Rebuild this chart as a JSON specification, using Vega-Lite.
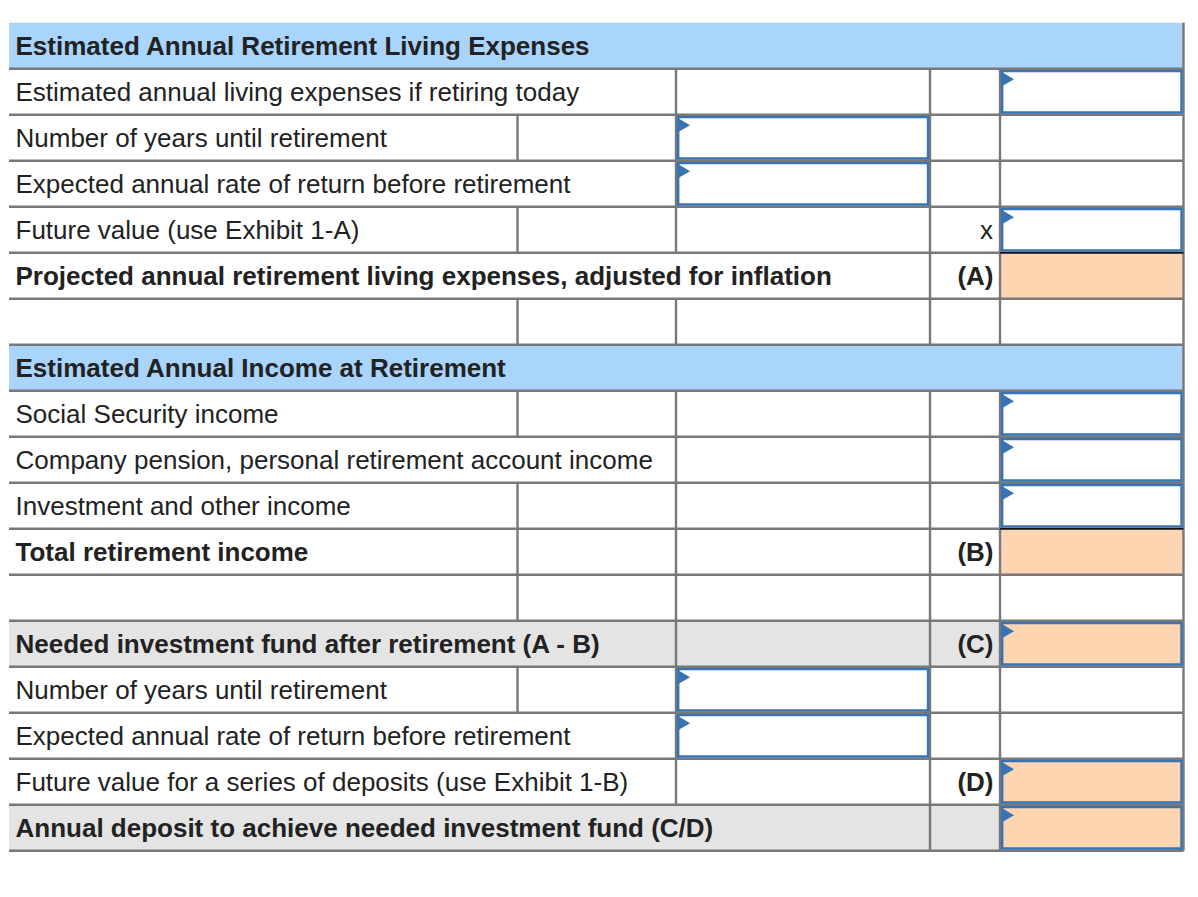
{
  "$schema": "https://vega.github.io/schema/vega-lite/v6.json",
  "width": 1198,
  "height": 897,
  "padding": 0,
  "autosize": {"type": "none"},
  "background": "white",
  "config": {
    "view": {"stroke": null},
    "text": {"font": "Liberation Sans", "fontSize": 26, "fill": "#222222"}
  },
  "datasets": {
    "rows": [
      {"r": 0, "r2": 1, "label": "Estimated Annual Retirement Living Expenses", "role": "section", "tag": "", "v": [5]},
      {"r": 1, "r2": 2, "label": "Estimated annual living expenses if retiring today", "role": "item", "tag": "", "v": [2, 3, 4, 5]},
      {"r": 2, "r2": 3, "label": "Number of years until retirement", "role": "item", "tag": "", "v": [1, 2, 3, 4, 5]},
      {"r": 3, "r2": 4, "label": "Expected annual rate of return before retirement", "role": "item", "tag": "", "v": [2, 3, 4, 5]},
      {"r": 4, "r2": 5, "label": "Future value (use Exhibit 1-A)", "role": "item", "tag": "x", "v": [1, 2, 3, 4, 5]},
      {"r": 5, "r2": 6, "label": "Projected annual retirement living expenses, adjusted for inflation", "role": "total", "tag": "(A)", "v": [3, 4, 5]},
      {"r": 6, "r2": 7, "label": "", "role": "blank", "tag": "", "v": [1, 2, 3, 4, 5]},
      {"r": 7, "r2": 8, "label": "Estimated Annual Income at Retirement", "role": "section", "tag": "", "v": [5]},
      {"r": 8, "r2": 9, "label": "Social Security income", "role": "item", "tag": "", "v": [1, 2, 3, 4, 5]},
      {"r": 9, "r2": 10, "label": "Company pension, personal retirement account income", "role": "item", "tag": "", "v": [2, 3, 4, 5]},
      {"r": 10, "r2": 11, "label": "Investment and other income", "role": "item", "tag": "", "v": [1, 2, 3, 4, 5]},
      {"r": 11, "r2": 12, "label": "Total retirement income", "role": "total", "tag": "(B)", "v": [1, 2, 3, 4, 5]},
      {"r": 12, "r2": 13, "label": "", "role": "blank", "tag": "", "v": [1, 2, 3, 4, 5]},
      {"r": 13, "r2": 14, "label": "Needed investment fund after retirement (A - B)", "role": "total", "tag": "(C)", "v": [2, 3, 4, 5]},
      {"r": 14, "r2": 15, "label": "Number of years until retirement", "role": "item", "tag": "", "v": [1, 2, 3, 4, 5]},
      {"r": 15, "r2": 16, "label": "Expected annual rate of return before retirement", "role": "item", "tag": "", "v": [2, 3, 4, 5]},
      {"r": 16, "r2": 17, "label": "Future value for a series of deposits (use Exhibit 1-B)", "role": "item", "tag": "(D)", "v": [2, 3, 4, 5]},
      {"r": 17, "r2": 18, "label": "Annual deposit to achieve needed investment fund (C/D)", "role": "total", "tag": "", "v": [3, 4, 5]}
    ],
    "cells": [
      {"r": 0, "r2": 1, "c": 0, "c2": 5, "kind": "section"},
      {"r": 7, "r2": 8, "c": 0, "c2": 5, "kind": "section"},
      {"r": 13, "r2": 14, "c": 0, "c2": 4, "kind": "shaded"},
      {"r": 17, "r2": 18, "c": 0, "c2": 4, "kind": "shaded"},
      {"r": 1, "r2": 2, "c": 4, "c2": 5, "kind": "entry"},
      {"r": 2, "r2": 3, "c": 2, "c2": 3, "kind": "entry"},
      {"r": 3, "r2": 4, "c": 2, "c2": 3, "kind": "entry"},
      {"r": 4, "r2": 5, "c": 4, "c2": 5, "kind": "entry"},
      {"r": 5, "r2": 6, "c": 4, "c2": 5, "kind": "result"},
      {"r": 8, "r2": 9, "c": 4, "c2": 5, "kind": "entry"},
      {"r": 9, "r2": 10, "c": 4, "c2": 5, "kind": "entry"},
      {"r": 10, "r2": 11, "c": 4, "c2": 5, "kind": "entry"},
      {"r": 11, "r2": 12, "c": 4, "c2": 5, "kind": "result"},
      {"r": 13, "r2": 14, "c": 4, "c2": 5, "kind": "result entry"},
      {"r": 14, "r2": 15, "c": 2, "c2": 3, "kind": "entry"},
      {"r": 15, "r2": 16, "c": 2, "c2": 3, "kind": "entry"},
      {"r": 16, "r2": 17, "c": 4, "c2": 5, "kind": "result entry"},
      {"r": 17, "r2": 18, "c": 4, "c2": 5, "kind": "result entry"}
    ]
  },
  "layer": [
    {
      "data": {"name": "cells"},
      "mark": {"type": "rect", "strokeWidth": 0},
      "encoding": {
        "x": {"field": "c", "type": "quantitative", "axis": null, "scale": {"domain": [0, 1, 2, 3, 4, 5], "range": [9, 517.5, 676, 930, 1000, 1183.5], "nice": false, "zero": false}},
        "x2": {"field": "c2"},
        "y": {"field": "r", "type": "quantitative", "axis": null, "scale": {"domain": [0, 18], "range": [22.7, 850.7], "nice": false, "zero": false}},
        "y2": {"field": "r2"},
        "fill": {"field": "kind", "type": "nominal", "legend": null, "scale": {"domain": ["section", "shaded", "result", "result entry", "entry"], "range": ["#a9d4fb", "#e4e4e4", "#fdd5b0", "#fdd5b0", "#ffffff"]}}
      }
    },
    {
      "data": {"name": "rows"},
      "mark": {"type": "rule", "color": "#787878", "strokeWidth": 2.4},
      "encoding": {
        "x": {"datum": 0, "type": "quantitative", "axis": null, "scale": {"domain": [0, 1, 2, 3, 4, 5], "range": [9, 517.5, 676, 930, 1000, 1183.5], "nice": false, "zero": false}},
        "x2": {"datum": 5},
        "y": {"field": "r2", "type": "quantitative", "axis": null, "scale": {"domain": [0, 18], "range": [22.7, 850.7], "nice": false, "zero": false}}
      }
    },
    {
      "data": {"name": "rows"},
      "transform": [{"flatten": ["v"]}],
      "mark": {"type": "rule", "color": "#787878", "strokeWidth": 2.4},
      "encoding": {
        "x": {"field": "v", "type": "quantitative", "axis": null, "scale": {"domain": [0, 1, 2, 3, 4, 5], "range": [9, 517.5, 676, 930, 1000, 1183.5], "nice": false, "zero": false}},
        "y": {"field": "r", "type": "quantitative", "axis": null, "scale": {"domain": [0, 18], "range": [22.7, 850.7], "nice": false, "zero": false}},
        "y2": {"field": "r2"}
      }
    },
    {
      "data": {"name": "cells"},
      "transform": [{"filter": "datum.kind === 'result'"}],
      "mark": {"type": "rule", "color": "#111111", "strokeWidth": 1.5},
      "encoding": {
        "x": {"field": "c", "type": "quantitative", "axis": null, "scale": {"domain": [0, 1, 2, 3, 4, 5], "range": [9, 517.5, 676, 930, 1000, 1183.5], "nice": false, "zero": false}},
        "x2": {"field": "c2"},
        "y": {"field": "r", "type": "quantitative", "axis": null, "scale": {"domain": [0, 18], "range": [22.7, 850.7], "nice": false, "zero": false}}
      }
    },
    {
      "data": {"name": "cells"},
      "transform": [{"filter": "datum.kind === 'entry' || datum.kind === 'result entry'"}],
      "mark": {"type": "rect", "filled": false, "stroke": "#3674b6", "strokeWidth": 2.4, "xOffset": 2.2, "x2Offset": -2, "yOffset": 2.4, "y2Offset": -2.2},
      "encoding": {
        "x": {"field": "c", "type": "quantitative", "axis": null, "scale": {"domain": [0, 1, 2, 3, 4, 5], "range": [9, 517.5, 676, 930, 1000, 1183.5], "nice": false, "zero": false}},
        "x2": {"field": "c2"},
        "y": {"field": "r", "type": "quantitative", "axis": null, "scale": {"domain": [0, 18], "range": [22.7, 850.7], "nice": false, "zero": false}},
        "y2": {"field": "r2"}
      }
    },
    {
      "data": {"name": "cells"},
      "transform": [{"filter": "datum.kind === 'entry' || datum.kind === 'result entry'"}],
      "mark": {"type": "point", "shape": "triangle-right", "filled": true, "color": "#3674b6", "opacity": 1, "size": 230, "xOffset": 7.5, "yOffset": 10.5},
      "encoding": {
        "x": {"field": "c", "type": "quantitative", "axis": null, "scale": {"domain": [0, 1, 2, 3, 4, 5], "range": [9, 517.5, 676, 930, 1000, 1183.5], "nice": false, "zero": false}},
        "y": {"field": "r", "type": "quantitative", "axis": null, "scale": {"domain": [0, 18], "range": [22.7, 850.7], "nice": false, "zero": false}}
      }
    },
    {
      "data": {"name": "rows"},
      "transform": [{"filter": "datum.role === 'item'"}],
      "mark": {"type": "text", "align": "left", "baseline": "alphabetic", "dx": 6.5, "dy": 32, "fontWeight": "normal"},
      "encoding": {
        "x": {"datum": 0, "type": "quantitative", "axis": null, "scale": {"domain": [0, 1, 2, 3, 4, 5], "range": [9, 517.5, 676, 930, 1000, 1183.5], "nice": false, "zero": false}},
        "y": {"field": "r", "type": "quantitative", "axis": null, "scale": {"domain": [0, 18], "range": [22.7, 850.7], "nice": false, "zero": false}},
        "text": {"field": "label"}
      }
    },
    {
      "data": {"name": "rows"},
      "transform": [{"filter": "datum.role === 'section' || datum.role === 'total'"}],
      "mark": {"type": "text", "align": "left", "baseline": "alphabetic", "dx": 6.5, "dy": 32, "fontWeight": "bold"},
      "encoding": {
        "x": {"datum": 0, "type": "quantitative", "axis": null, "scale": {"domain": [0, 1, 2, 3, 4, 5], "range": [9, 517.5, 676, 930, 1000, 1183.5], "nice": false, "zero": false}},
        "y": {"field": "r", "type": "quantitative", "axis": null, "scale": {"domain": [0, 18], "range": [22.7, 850.7], "nice": false, "zero": false}},
        "text": {"field": "label"}
      }
    },
    {
      "data": {"name": "rows"},
      "transform": [{"filter": "datum.tag === 'x'"}],
      "mark": {"type": "text", "align": "right", "baseline": "alphabetic", "dx": -7, "dy": 32, "fontWeight": "normal"},
      "encoding": {
        "x": {"datum": 4, "type": "quantitative", "axis": null, "scale": {"domain": [0, 1, 2, 3, 4, 5], "range": [9, 517.5, 676, 930, 1000, 1183.5], "nice": false, "zero": false}},
        "y": {"field": "r", "type": "quantitative", "axis": null, "scale": {"domain": [0, 18], "range": [22.7, 850.7], "nice": false, "zero": false}},
        "text": {"field": "tag"}
      }
    },
    {
      "data": {"name": "rows"},
      "transform": [{"filter": "datum.tag !== '' && datum.tag !== 'x'"}],
      "mark": {"type": "text", "align": "right", "baseline": "alphabetic", "dx": -6.5, "dy": 32, "fontWeight": "bold"},
      "encoding": {
        "x": {"datum": 4, "type": "quantitative", "axis": null, "scale": {"domain": [0, 1, 2, 3, 4, 5], "range": [9, 517.5, 676, 930, 1000, 1183.5], "nice": false, "zero": false}},
        "y": {"field": "r", "type": "quantitative", "axis": null, "scale": {"domain": [0, 18], "range": [22.7, 850.7], "nice": false, "zero": false}},
        "text": {"field": "tag"}
      }
    }
  ]
}
